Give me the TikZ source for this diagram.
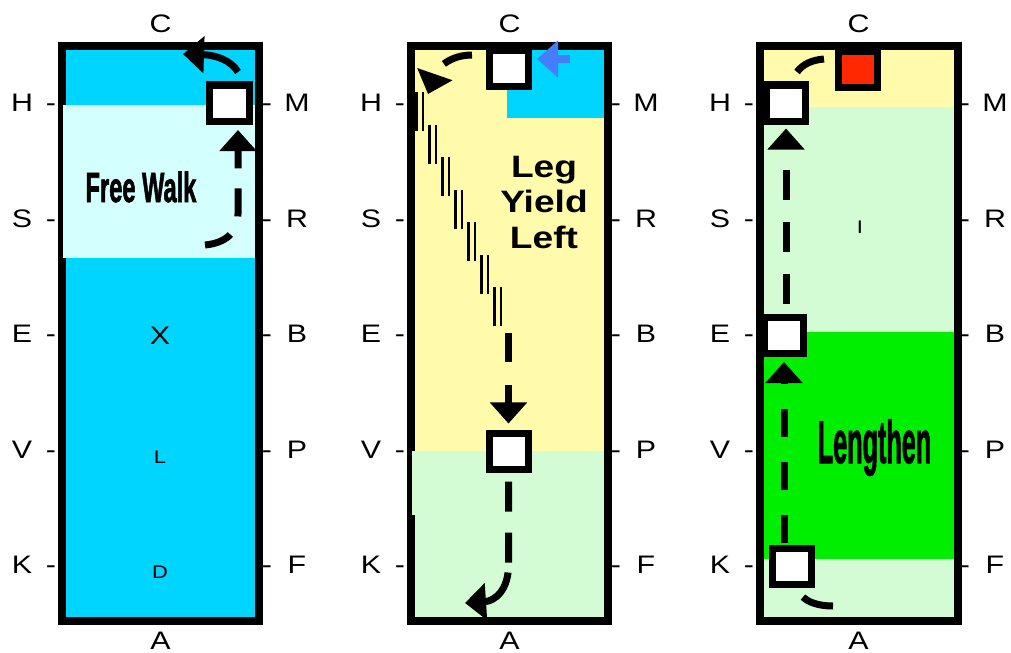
\documentclass[tikz,border=0pt]{standalone}
\usepackage{fontspec}
\setmainfont{Liberation Sans}[FakeStretch=1.2]
\newfontfamily\heavyfont[FakeBold=2]{Liberation Sans}
\usepackage{graphicx}
\usetikzlibrary{arrows.meta}

\definecolor{pool}{RGB}{0,213,255}
\definecolor{ice}{RGB}{212,255,255}
\definecolor{straw}{RGB}{255,251,170}
\definecolor{mint}{RGB}{212,252,212}
\definecolor{lawn}{RGB}{0,238,0}
\definecolor{flag}{RGB}{255,40,0}
\definecolor{aid}{RGB}{70,125,255}

\tikzset{
  arena/.style={line width=0.19cm},
  horse/.style={draw, fill=white, line width=0.175cm, minimum width=0.975cm, minimum height=0.9cm, inner sep=0pt},
  letter/.style={font=\fontsize{18}{20}\selectfont, text height=12.9pt, text depth=0pt, inner sep=0pt},
  faint/.style={font=\fontsize{13}{15}\selectfont, text height=9.3pt, text depth=0pt, inner sep=0pt},
  track/.style={line width=0.175cm},
  route/.style={track, -{Triangle[width=0.9cm,length=0.525cm]}},
  hoof/.style={line width=0.07cm},
}

\begin{document}
\begin{tikzpicture}[x=0.025cm, y=-0.025cm]
\useasboundingbox (0,0) rectangle (1011,652);

% free walk board
\fill[pool] (62,46) rectangle (259,621);
\draw[arena] (62,46) rectangle (259,621);
\fill[ice] (63,105) rectangle (255,258);
\node[letter] (x1) at (160,335) {X};
\node[faint] (l1) at (160,457) {L};
\node[faint] (d1) at (160,571.5) {D};
\node[anchor=base, inner sep=0pt, font=\heavyfont\bfseries\fontsize{30}{32}\selectfont] (walk) at (141,202) {\scalebox{0.56}[1]{Free Walk}};
\node[horse] (h1) at (229.5,103) {};
\coordinate (w0) at (205,245);
\coordinate (w1) at (238,130);
\coordinate (w2) at (238,72);
\coordinate (w3) at (183,54);
\draw[route, dash pattern=on 0.7cm off 0.5cm] (w0) .. controls (226,243) and (238,232) .. (238,214) -- (w1);
\draw[route] (w2) .. controls (231,60) and (215,55) .. (w3);

% leg yield board
\fill[straw] (411,46) rectangle (608,621);
\fill[pool] (507,47) rectangle (604,118);
\fill[mint] (412,451) rectangle (604,618);
\draw[arena] (411,46) rectangle (608,621);
\fill[mint] (412,451) rectangle (416,515);
\node[anchor=base, inner sep=0pt, font=\bfseries\fontsize{22}{25}\selectfont] (leg) at (544,177) {Leg};
\node[anchor=base, inner sep=0pt, font=\bfseries\fontsize{22}{25}\selectfont] (yield) at (544,212) {Yield};
\node[anchor=base, inner sep=0pt, font=\bfseries\fontsize{22}{25}\selectfont] (left) at (544,248) {Left};
\node[horse] (c2) at (508.5,68) {};
\node[horse] (v2) at (508.5,451) {};
\coordinate (a2) at (570,59);
\draw[-{Triangle[width=0.9cm,length=0.525cm]}, aid, line width=0.2cm, shorten >=0.14cm] (a2) -- (c2.east |- a2);
\coordinate (t0) at (472,55);
\coordinate (t1) at (428,94);
\draw[route, dash pattern=on 0.75cm off 0.5cm] (t0) .. controls (450,55) and (437,68) .. (t1);
\foreach \k in {0,...,6} {
  \draw[hoof] (416.5+13*\k,92+32.5*\k) -- ++(0,39);
  \draw[hoof] (423+13*\k,92+32.5*\k) -- ++(0,39);
}
\coordinate (ly) at (508.5,333);
\draw[route, shorten >=0.15cm, dash pattern=on 0.725cm off 0.575cm] (ly) -- (v2.north);
\coordinate (t2) at (465,603);
\draw[route, shorten <=0.225cm, dash pattern=on 0.75cm off 0.525cm on 0.75cm off 0.25cm on 1cm] (v2.south) -- (508.5,565) .. controls (508.5,590) and (495,601) .. (t2);

% lengthen board
\fill[mint] (760,46) rectangle (958,621);
\fill[straw] (762,47) rectangle (955,107);
\fill[lawn] (761,332) rectangle (954,559);
\draw[arena] (760,46) rectangle (958,621);
\node[faint] (i3) at (860,227) {I};
\node[anchor=base, inner sep=0pt, font=\heavyfont\bfseries\fontsize{42.7}{44}\selectfont] (len) at (874.5,463) {\scalebox{0.42}[1]{Lengthen}};
\node[horse] (h3) at (786,103) {};
\node[horse] (e3) at (784,335.5) {};
\node[horse] (k3) at (792,566.5) {};
\node[horse, fill=flag] (c3) at (857.5,69.5) {};
\coordinate (k0) at (833,606);
\coordinate (k1) at (803,597);
\draw[track] (k0) .. controls (818,606) and (808,602) .. (k1);
\draw[route, shorten <=0.05cm, shorten >=0.125cm, dash pattern=on 0.7cm off 0.625cm] (e3.south |- k3.north) -- (e3.south);
\draw[route, shorten <=0.25cm, shorten >=0.1cm, dash pattern=on 0.75cm off 0.55cm] (h3.south |- e3.north) -- (h3.south);
\coordinate (c0) at (824,59);
\draw[track] (797,72) .. controls (803,64) and (812,60) .. (c0);

% arena letters
\foreach \p in {0,1,2} {
  \node[letter] (top\p) at (160.5+349*\p,23) {C};
  \node[letter] (bot\p) at (160.5+349*\p,640) {A};
  \foreach \l/\r [count=\i from 0] in {H/M,S/R,E/B,V/P,K/F} {
    \node[letter] (l\p\l) at (22+349*\p,102.5+115.5*\i) {\l};
    \node[letter] (dl\p\l) at (51+349*\p,102.5+115.5*\i) {-};
    \node[letter] (dr\p\r) at (267+349*\p,102.5+115.5*\i) {-};
    \node[letter] (r\p\r) at (297+349*\p,102.5+115.5*\i) {\r};
  }
}

\end{tikzpicture}
\end{document}
